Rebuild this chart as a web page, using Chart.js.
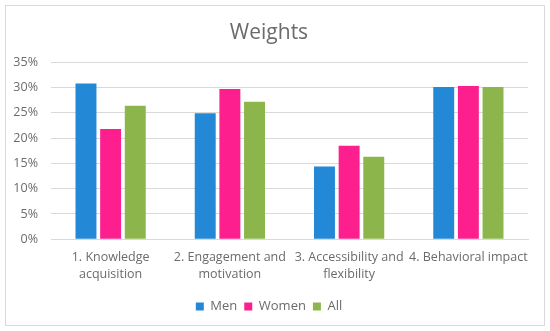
<!DOCTYPE html>
<html>
<head>
<meta charset="utf-8">
<script src="https://cdn.jsdelivr.net/npm/chart.js@4"></script>
<style>
  html, body { margin: 0; padding: 0; background: #fff; }
  #frame { position: absolute; left: 5px; top: 5px; width: 538px; height: 319px; border: 1px solid #d9d9d9; }
  #wrap { position: absolute; left: 0; top: 0; width: 550px; height: 331px; }
</style>
</head>
<body>
<div id="frame"></div>
<div id="wrap"><canvas id="weightsChart"></canvas></div>
<script>
// categories and values (percent)
const categorias = [
    ['1. Knowledge', 'acquisition'],
    ['2. Engagement and', 'motivation'],
    ['3. Accessibility and', 'flexibility'],
    '4. Behavioral impact'
];
const homens = [30.8, 24.9, 14.4, 30.1];
const mulheres = [21.8, 29.7, 18.5, 30.3];
const todos = [26.4, 27.2, 16.3, 30.1];

const fonte = "'Open Sans', 'DejaVu Sans', sans-serif";
const cinza = '#6b6b6b';

const ctx = document.getElementById('weightsChart').getContext('2d');
const weightsChart = new Chart(ctx, {
    type: 'bar',
    data: {
        labels: categorias,
        datasets: [
            { label: 'Men', data: homens, backgroundColor: '#2389d6' },
            { label: 'Women', data: mulheres, backgroundColor: '#fd1f8e' },
            { label: 'All', data: todos, backgroundColor: '#8cb64b' }
        ]
    },
    options: {
        responsive: true,
        maintainAspectRatio: false,
        animation: false,
        layout: { padding: { left: 10, right: 22, top: 20, bottom: 8 } },
        datasets: { bar: { categoryPercentage: 0.62, barPercentage: 0.85 } },
        plugins: {
            title: {
                display: true,
                text: 'Weights',
                color: cinza,
                font: { family: fonte, size: 21, weight: 'normal' },
                padding: { top: 0, bottom: 17 }
            },
            legend: {
                position: 'bottom',
                labels: {
                    color: cinza,
                    font: { family: fonte, size: 13 },
                    boxWidth: 8,
                    boxHeight: 8,
                    padding: 7
                }
            },
            tooltip: { enabled: false }
        },
        scales: {
            x: {
                grid: { display: false, drawTicks: false },
                border: { color: '#d9d9d9' },
                ticks: {
                    color: cinza,
                    font: { family: fonte, size: 12.5, lineHeight: 1.35 },
                    maxRotation: 0,
                    autoSkip: false,
                    padding: 10
                }
            },
            y: {
                min: 0,
                max: 35,
                afterFit: (escala) => { escala.width = 41; },
                grid: { color: '#d9d9d9', drawTicks: false },
                border: { display: false },
                ticks: {
                    stepSize: 5,
                    color: cinza,
                    font: { family: fonte, size: 12.5 },
                    padding: 13,
                    callback: (v) => v + '%'
                }
            }
        }
    }
});
</script>
</body>
</html>
